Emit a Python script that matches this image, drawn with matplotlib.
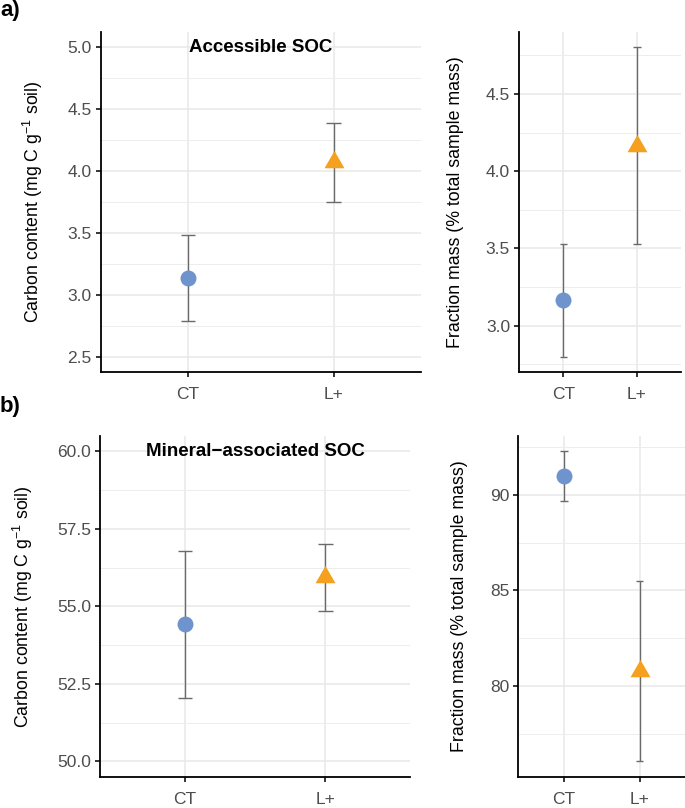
import matplotlib
matplotlib.use("Agg")
import matplotlib.pyplot as plt
import numpy as np

plt.rcParams['font.family'] = ['Liberation Sans', 'DejaVu Sans']
plt.rcParams['mathtext.fontset'] = 'custom'
plt.rcParams['mathtext.rm'] = 'Liberation Sans'

# data (mean, +/- error)
treatments = ['CT', 'L+']

acc_c_mean = [3.137, 4.07]
acc_c_err = [0.347, 0.318]
acc_mass_mean = [3.166, 4.165]
acc_mass_err = [0.366, 0.637]

min_c_mean = [54.42, 55.95]
min_c_err = [2.38, 1.08]
min_mass_mean = [90.98, 80.78]
min_mass_err = [1.29, 4.73]

acc_c_ticks = [2.5, 3.0, 3.5, 4.0, 4.5, 5.0]
acc_mass_ticks = [3.0, 3.5, 4.0, 4.5]
min_c_ticks = [50.0, 52.5, 55.0, 57.5, 60.0]
min_mass_ticks = [80, 85, 90]

colors = ['#6F94CD', '#F5A01F']
tri = [(0, 1.1547), (-1, -0.57735), (1, -0.57735)]
markers = ['o', tri]
msizes = [11.5, 16.6]

c_label = r'Carbon content (mg C g$^{-1}$ soil)'
m_label = 'Fraction mass (% total sample mass)'


def panel(ax, means, errs, ticks, fmt, ylabel, lims=None, title=None):
    x = np.arange(1, len(means) + 1)
    means = np.array(means)
    errs = np.array(errs)
    lo = means - errs
    hi = means + errs
    ax.vlines(x, lo, hi, color='#6A6A6A', lw=1.0, zorder=3)
    ax.hlines(lo, x - 0.05, x + 0.05, color='#6A6A6A', lw=1.0, zorder=3)
    ax.hlines(hi, x - 0.05, x + 0.05, color='#6A6A6A', lw=1.0, zorder=3)
    for i in range(len(means)):
        ax.plot(x[i], means[i], marker=markers[i], ms=msizes[i], color=colors[i],
                mec='none', zorder=4, ls='none')
    ax.set_xticks(x)
    ax.set_xticklabels(treatments)
    ax.set_yticks(ticks)
    ax.set_yticklabels([fmt.format(t) for t in ticks])
    step = ticks[1] - ticks[0]
    minor = np.arange(ticks[0] - step / 2, ticks[-1] + step, step)
    ax.set_yticks(minor, minor=True)
    if lims is None:
        lims = (lo.min(), hi.max())
    rng = lims[1] - lims[0]
    ax.set_ylim(lims[0] - 0.05 * rng, lims[1] + 0.05 * rng)
    ax.set_xlim(0.4, len(means) + 0.6)
    ax.tick_params(axis='y', which='minor', length=0)
    ax.grid(True, which='major', color='#E8E8E8', lw=1.1, zorder=0)
    ax.grid(True, which='minor', axis='y', color='#EDEDED', lw=0.7, zorder=0)
    ax.set_axisbelow(True)
    for s in ['top', 'right']:
        ax.spines[s].set_visible(False)
    for s in ['left', 'bottom']:
        ax.spines[s].set_linewidth(1.3)
        ax.spines[s].set_color('black')
    ax.tick_params(axis='both', which='major', length=3.5, width=1.1,
                   color='black', labelcolor='#4D4D4D', labelsize=12.5)
    ax.tick_params(axis='x', pad=7)
    ax.tick_params(axis='y', pad=3)
    ax.set_ylabel(ylabel, fontsize=12.8, labelpad=16)
    if title:
        ax.text(1.5, ticks[-1], title, ha='center', va='center',
                fontsize=13.5, fontweight='bold', zorder=5)


fig = plt.figure(figsize=(6.85, 8.08), dpi=100)

ax1 = fig.add_axes([0.147, 0.5396, 0.4676, 0.4208])
ax2 = fig.add_axes([0.7577, 0.5396, 0.2365, 0.4208])
ax3 = fig.add_axes([0.146, 0.0384, 0.4526, 0.422])
ax4 = fig.add_axes([0.7567, 0.0384, 0.2434, 0.422])

panel(ax1, acc_c_mean, acc_c_err, acc_c_ticks, '{:.1f}', c_label,
      lims=(2.5, 5.0), title='Accessible SOC')
panel(ax2, acc_mass_mean, acc_mass_err, acc_mass_ticks, '{:.1f}', m_label)
panel(ax3, min_c_mean, min_c_err, min_c_ticks, '{:.1f}', c_label,
      lims=(50, 60), title='Mineral\u2212associated SOC')
panel(ax4, min_mass_mean, min_mass_err, min_mass_ticks, '{:.0f}', m_label)

fig.text(0.0, 1.0, 'a)', fontsize=16, fontweight='bold', ha='left', va='top')
fig.text(0.0, 1 - 396 / 808, 'b)', fontsize=16, fontweight='bold', ha='left', va='top')

fig.savefig('out.png', dpi=100)
